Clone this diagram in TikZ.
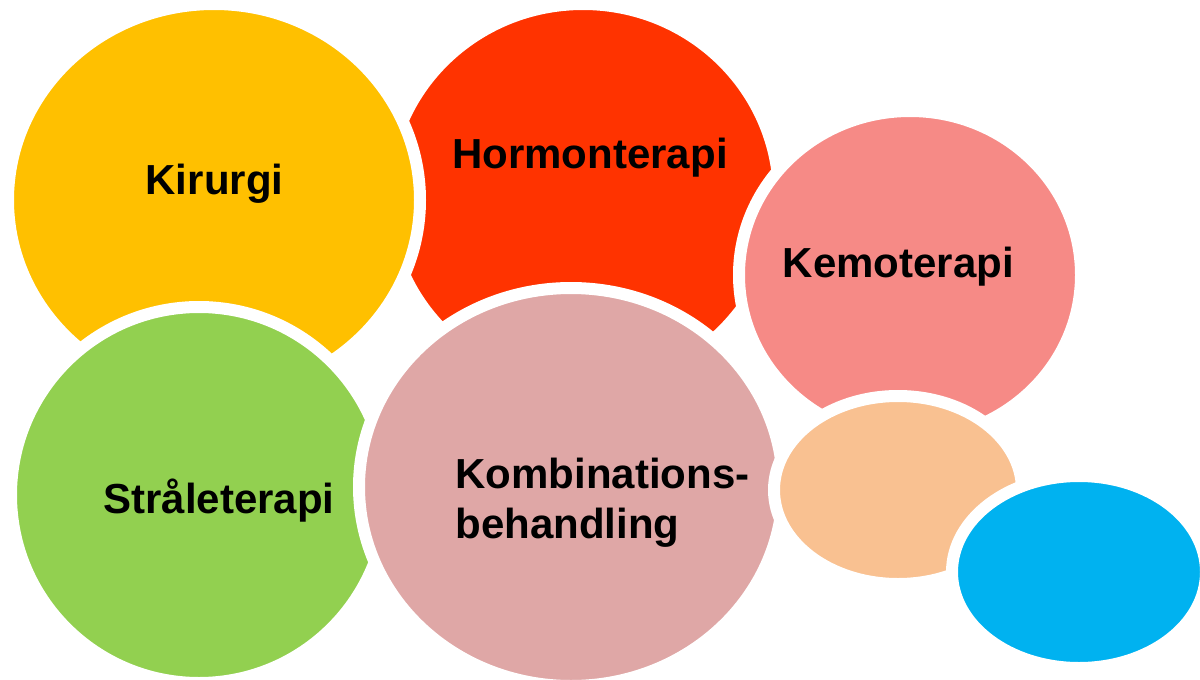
\documentclass[tikz,border=0pt]{standalone}
\usepackage{fontspec}
\setmainfont{Liberation Sans}
\usepackage{tikz}
\usetikzlibrary{shapes.geometric}
\definecolor{kirurgiyellow}{HTML}{FFC000}
\definecolor{hormonred}{HTML}{FF3300}
\definecolor{kemosalmon}{HTML}{F68A86}
\definecolor{straalegreen}{HTML}{92D050}
\definecolor{kombipink}{HTML}{DFA7A6}
\definecolor{extrapeach}{HTML}{F9C191}
\definecolor{extrablue}{HTML}{00B2F0}

\begin{document}
\begin{tikzpicture}[
    x=1pt, y=-1pt,
    bubble/.style={ellipse, draw=white, line width=12pt, fill=#1, inner sep=0pt},
    lbl/.style={anchor=base, font=\fontsize{42pt}{50pt}\selectfont\bfseries}
]
\path[use as bounding box, fill=white] (0,0) rectangle (1200,680);

% bubbles, back to front
\node[bubble=hormonred, minimum width=392pt, minimum height=384pt] (hormon) at (583,196) {};
\node[bubble=kirurgiyellow, minimum width=412pt, minimum height=392pt] (kirurgi) at (214,200) {};
\node[bubble=kemosalmon, minimum width=342pt, minimum height=328pt] (kemo) at (910,275) {};
\node[bubble=straalegreen, minimum width=376pt, minimum height=376pt] (straale) at (199,495) {};
\node[bubble=kombipink, minimum width=424pt, minimum height=398pt] (kombi) at (571,487) {};
\node[bubble=extrapeach, minimum width=248pt, minimum height=188pt] (peach) at (898,490) {};
\node[bubble=extrablue, minimum width=254pt, minimum height=192pt] (blue) at (1079,572) {};

% labels
\node[lbl] (kirurgitext) at (214.5,194) {Kirurgi};
\node[lbl] (hormontext) at (590,168) {Hormonterapi};
\node[lbl] (kemotext) at (898.5,277) {Kemoterapi};
\node[lbl] (straaletext) at (219,513) {Stråleterapi};
\node[lbl, anchor=base west, align=left] (kombitext) at (452,538) {Kombinations-\\behandling};

\end{tikzpicture}
\end{document}
